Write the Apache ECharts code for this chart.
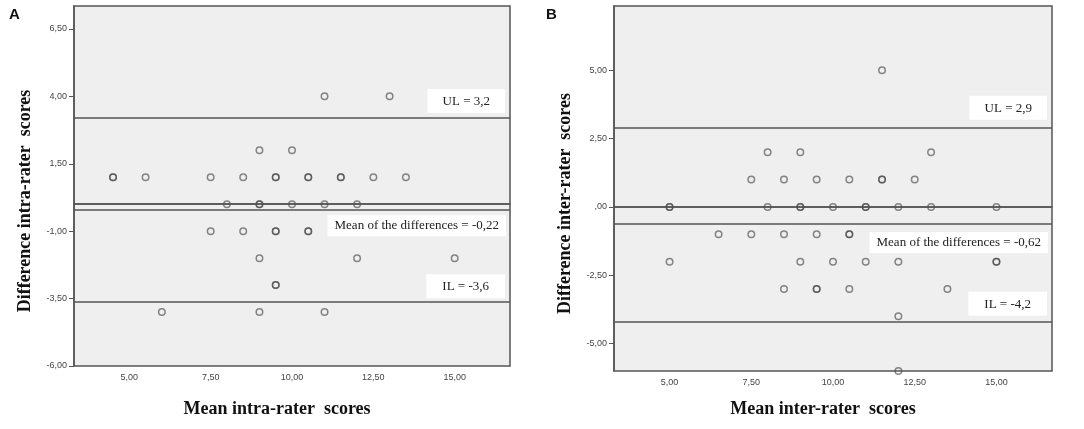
<!DOCTYPE html>
<html>
<head>
<meta charset="utf-8">
<style>
    html, body { margin: 0; padding: 0; background: #fff; }
    #main { width: 1084px; height: 429px; }
</style>
</head>
<body>
<div id="main"></div>
<script src="https://cdn.jsdelivr.net/npm/echarts@6/dist/echarts.min.js"></script>
<script>
    // panel A : intra-rater
    var intraMean = [11, 13, 9, 10,
        4.5, 4.5, 5.5, 7.5, 8.5, 9.5, 9.5, 10.5, 10.5, 11.5, 11.5, 12.5, 13.5,
        8, 9, 9, 10, 11, 12,
        7.5, 8.5, 9.5, 9.5, 10.5, 10.5,
        9, 12, 15,
        9.5, 9.5,
        6, 9, 11];
    var intraDiff = [4, 4, 2, 2,
        1, 1, 1, 1, 1, 1, 1, 1, 1, 1, 1, 1, 1,
        0, 0, 0, 0, 0, 0,
        -1, -1, -1, -1, -1, -1,
        -2, -2, -2,
        -3, -3,
        -4, -4, -4];
    var intraUL = 3.2, intraBias = -0.22, intraLL = -3.6;

    // panel B : inter-rater
    var interMean = [11.5,
        8, 9, 13,
        7.5, 8.5, 9.5, 10.5, 11.5, 11.5, 12.5,
        5, 5, 8, 9, 9, 10, 11, 11, 12, 13, 15,
        6.5, 7.5, 8.5, 9.5, 10.5, 10.5,
        5, 9, 10, 11, 12, 15, 15,
        8.5, 9.5, 9.5, 10.5, 13.5,
        12,
        12];
    var interDiff = [5,
        2, 2, 2,
        1, 1, 1, 1, 1, 1, 1,
        0, 0, 0, 0, 0, 0, 0, 0, 0, 0, 0,
        -1, -1, -1, -1, -1, -1,
        -2, -2, -2, -2, -2, -2, -2,
        -3, -3, -3, -3, -3,
        -4,
        -6];
    var interUL = 2.9, interBias = -0.62, interLL = -4.2;

    var xTicks = [5, 7.5, 10, 12.5, 15];
    var yTicksA = [-6, -3.5, -1, 1.5, 4, 6.5];
    var yTicksB = [-5, -2.5, 0, 2.5, 5];

    function comma(v, d) {
        var s = v.toFixed(d).replace('.', ',');
        if (s === '0,00') s = ',00';
        return s;
    }
    function pairs(xs, ys) {
        return xs.map(function (x, i) { return [x, ys[i]]; });
    }

    var serif = '"Liberation Serif", "DejaVu Serif", serif';
    var boxLabel = {
        show: true,
        fontFamily: serif,
        fontSize: 13,
        color: '#222',
        backgroundColor: '#fff'
    };

    function limitLines(ul, bias, ll, gaps) {
        return {
            silent: true,
            symbol: 'none',
            lineStyle: {color: '#555', width: 1.5, type: 'solid'},
            label: {show: false},
            data: [
                {yAxis: 0},
                {yAxis: ul, label: Object.assign({}, boxLabel, {
                    position: 'insideEndTop', distance: [5, gaps[0]], padding: [6, 15, 5, 15],
                    formatter: 'UL = ' + comma(ul, 1)})},
                {yAxis: bias, label: Object.assign({}, boxLabel, {
                    position: 'insideEndBottom', distance: [4, gaps[1]], padding: [4, 7, 4, 7],
                    formatter: 'Mean of the differences = ' + comma(bias, 2)})},
                {yAxis: ll, label: Object.assign({}, boxLabel, {
                    position: 'insideEndTop', distance: [5, gaps[2]], padding: [6, 16, 5, 16],
                    formatter: 'IL = ' + comma(ll, 1)})}
            ]
        };
    }

    function xAxisOf(idx, name, gap, shift) {
        return {
            gridIndex: idx, type: 'value', min: 3.3, max: 16.7,
            name: name, nameLocation: 'middle', nameGap: gap,
            nameTextStyle: {fontFamily: serif, fontWeight: 'bold', fontSize: 18, color: '#111',
                padding: [0, shift, 0, 0]},
            axisLine: {show: true, lineStyle: {color: '#555', width: 1.5}},
            axisTick: {show: false},
            splitLine: {show: false},
            axisLabel: {customValues: xTicks, formatter: function (v) { return comma(v, 2); },
                fontFamily: '"Liberation Sans", Arial, sans-serif', fontSize: 9, color: '#444', margin: 7}
        };
    }
    function yAxisOf(idx, name, max, ticks) {
        return {
            gridIndex: idx, type: 'value', min: -6, max: max,
            name: name, nameLocation: 'middle', nameGap: 40, nameRotate: 90,
            nameTextStyle: {fontFamily: serif, fontWeight: 'bold', fontSize: 18, color: '#111',
                padding: [0, 30, 0, 0]},
            axisLine: {show: true, lineStyle: {color: '#555', width: 1.5}},
            axisTick: {show: true, customValues: ticks, length: 5, lineStyle: {color: '#555'}},
            splitLine: {show: false},
            axisLabel: {customValues: ticks, formatter: function (v) { return comma(v, 2); },
                fontFamily: '"Liberation Sans", Arial, sans-serif', fontSize: 9, color: '#444', margin: 7}
        };
    }

    var pointStyle = {color: 'rgba(0,0,0,0)', borderColor: 'rgba(70,70,70,0.8)', borderWidth: 1.5};

    var myChart = echarts.init(document.getElementById('main'));
    myChart.setOption({
        animation: false,
        backgroundColor: '#fff',
        title: [
            {text: 'A', left: 4, top: 2, textStyle: {fontFamily: '"Liberation Sans", Arial', fontSize: 15, fontWeight: 'bold', color: '#111'}},
            {text: 'B', left: 541, top: 2, textStyle: {fontFamily: '"Liberation Sans", Arial', fontSize: 15, fontWeight: 'bold', color: '#111'}}
        ],
        grid: [
            {left: 74, right: 574, top: 6, bottom: 63, show: true, backgroundColor: '#efefef', borderColor: '#555', borderWidth: 1.5},
            {left: 614, right: 32, top: 6, bottom: 58, show: true, backgroundColor: '#efefef', borderColor: '#555', borderWidth: 1.5}
        ],
        xAxis: [
            xAxisOf(0, 'Mean intra-rater  scores', 34, 30),
            xAxisOf(1, 'Mean inter-rater  scores', 29, 20)
        ],
        yAxis: [
            yAxisOf(0, 'Difference intra-rater  scores', 7.35, yTicksA),
            yAxisOf(1, 'Difference inter-rater  scores', 7.35, yTicksB)
        ],
        series: [
            {
                type: 'scatter', xAxisIndex: 0, yAxisIndex: 0,
                symbol: 'circle', symbolSize: 6.5, itemStyle: pointStyle,
                data: pairs(intraMean, intraDiff),
                markLine: limitLines(intraUL, intraBias, intraLL, [5, 5, 3])
            },
            {
                type: 'scatter', xAxisIndex: 1, yAxisIndex: 1, clip: true,
                symbol: 'circle', symbolSize: 6.5, itemStyle: pointStyle,
                data: pairs(interMean, interDiff),
                markLine: limitLines(interUL, interBias, interLL, [8, 8, 6])
            }
        ]
    });
</script>
</body>
</html>
